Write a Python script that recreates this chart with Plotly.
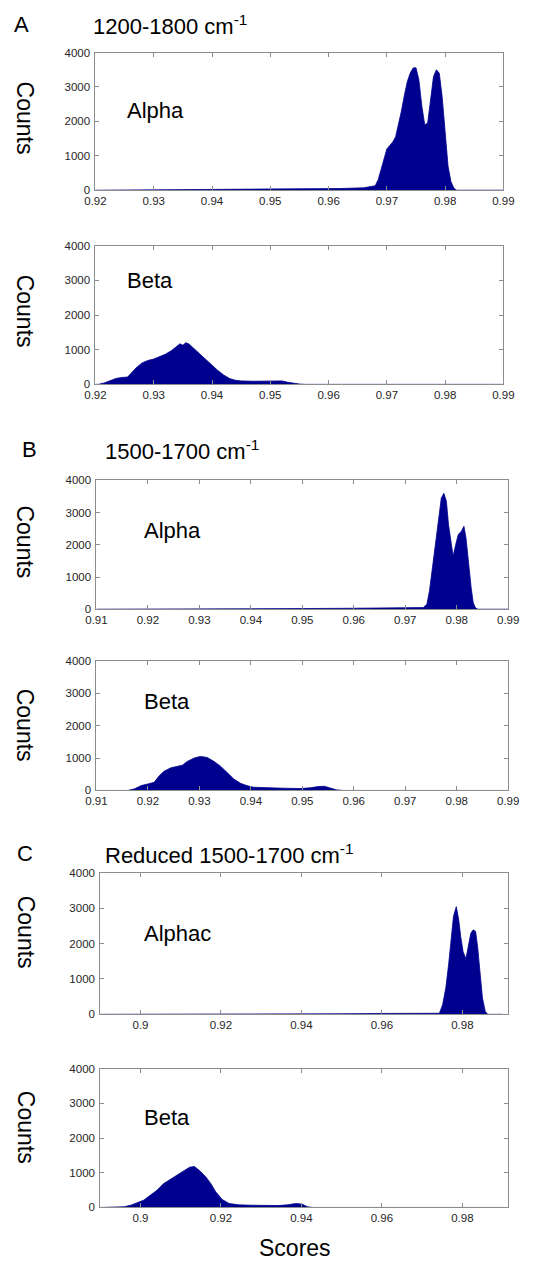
import plotly.graph_objects as go

W, H = 548, 1262
NAVY = "#00008F"

# histogram outlines: score (x) and counts (y)
a_alpha_x = [0.920, 0.933, 0.945, 0.955, 0.962, 0.966, 0.968, 0.9685, 0.969, 0.9695,
             0.970, 0.9705, 0.971, 0.9715, 0.972, 0.9725, 0.973, 0.9735, 0.974, 0.9745,
             0.975, 0.9755, 0.976, 0.9765, 0.977, 0.9775, 0.978, 0.9785, 0.979, 0.9795,
             0.980, 0.9805, 0.981, 0.9815, 0.982, 0.990]
a_alpha_y = [0, 15, 25, 35, 50, 70, 130, 300, 600, 950,
             1200, 1300, 1400, 1550, 1900, 2300, 2750, 3150, 3400, 3550,
             3560, 3200, 2450, 1900, 1950, 2700, 3300, 3500, 3400, 2700,
             1600, 700, 250, 60, 0, 0]

a_beta_x = [0.920, 0.9205, 0.9215, 0.9225, 0.9235, 0.9245, 0.9255, 0.926, 0.927, 0.928,
            0.929, 0.930, 0.931, 0.932, 0.933, 0.934, 0.9345, 0.935, 0.9355, 0.936,
            0.9365, 0.937, 0.938, 0.939, 0.940, 0.941, 0.942, 0.943, 0.944, 0.945,
            0.947, 0.949, 0.951, 0.952, 0.953, 0.954, 0.955, 0.956, 0.990]
a_beta_y = [0, 0, 40, 110, 170, 200, 210, 300, 480, 620,
            690, 730, 790, 870, 970, 1100, 1170, 1130, 1200, 1170,
            1090, 1020, 870, 720, 560, 400, 270, 170, 120, 100,
            90, 95, 110, 100, 60, 30, 10, 0, 0]

b_alpha_x = [0.910, 0.944, 0.950, 0.960, 0.968, 0.9735, 0.9742, 0.9747, 0.9752, 0.9756,
             0.9761, 0.9766, 0.9770, 0.9775, 0.9780, 0.9784, 0.9789, 0.9793, 0.9798, 0.9803,
             0.9809, 0.9814, 0.9818, 0.9823, 0.9828, 0.9832, 0.9836, 0.9841, 0.990]
b_alpha_y = [0, 0, 20, 30, 40, 50, 155, 565, 1185, 1700,
             2370, 2935, 3450, 3600, 3350, 2630, 2010, 1650, 2010, 2320,
             2420, 2575, 2215, 1390, 670, 205, 50, 0, 0]

b_beta_x = [0.910, 0.9161, 0.9174, 0.9187, 0.920, 0.9212, 0.9222, 0.9232, 0.9245, 0.9257,
            0.9267, 0.9277, 0.929, 0.9302, 0.9315, 0.9328, 0.9341, 0.9354, 0.9367, 0.938,
            0.9392, 0.9405, 0.9431, 0.9463, 0.9495, 0.9515, 0.9531, 0.9543, 0.9553, 0.9566,
            0.9579, 0.990]
b_beta_y = [0, 0, 50, 150, 200, 250, 450, 600, 700, 750,
            780, 900, 1000, 1050, 1020, 900, 750, 550, 350, 220,
            150, 100, 80, 70, 60, 80, 120, 130, 80, 20,
            0, 0]

c_alpha_x = [0.890, 0.940, 0.950, 0.960, 0.970, 0.9743, 0.9751, 0.9759, 0.9766, 0.9772,
             0.9778, 0.9785, 0.9791, 0.9796, 0.9802, 0.9809, 0.9815, 0.9821, 0.9827, 0.9833,
             0.9838, 0.9845, 0.9850, 0.9857, 0.9863, 0.990]
c_alpha_y = [0, 0, 15, 25, 35, 30, 270, 750, 1420, 2190,
             2770, 3040, 2670, 2190, 1760, 1570, 1950, 2290, 2385, 2340,
             1900, 1135, 460, 80, 0, 0]

c_beta_x = [0.890, 0.8939, 0.8959, 0.8976, 0.8992, 0.9008, 0.9024, 0.9041, 0.9057, 0.9073,
            0.9089, 0.9106, 0.9122, 0.9134, 0.9146, 0.9163, 0.9175, 0.9187, 0.9203, 0.922,
            0.9244, 0.9276, 0.9309, 0.9341, 0.9366, 0.9386, 0.9402, 0.9415, 0.9427, 0.990]
c_beta_y = [0, 0, 20, 65, 135, 210, 350, 495, 685, 800,
            925, 1050, 1160, 1180, 1070, 875, 685, 450, 230, 115,
            75, 65, 55, 55, 75, 115, 95, 20, 0, 0]

count_ticks = [0, 1000, 2000, 3000, 4000]
a_ticks = [0.92, 0.93, 0.94, 0.95, 0.96, 0.97, 0.98, 0.99]
a_labels = ["0.92", "0.93", "0.94", "0.95", "0.96", "0.97", "0.98", "0.99"]
b_ticks = [0.91, 0.92, 0.93, 0.94, 0.95, 0.96, 0.97, 0.98, 0.99]
b_labels = ["0.91", "0.92", "0.93", "0.94", "0.95", "0.96", "0.97", "0.98", "0.99"]
c_ticks = [0.90, 0.92, 0.94, 0.96, 0.98]
c_labels = ["0.9", "0.92", "0.94", "0.96", "0.98"]

# (x, y, left/right px, top/bottom px, x range, ticks, labels)
panels = [
    (a_alpha_x, a_alpha_y, (88, 513), (47, 186), [0.92, 0.99], a_ticks, a_labels),
    (a_beta_x, a_beta_y, (88, 513), (242, 382), [0.92, 0.99], a_ticks, a_labels),
    (b_alpha_x, b_alpha_y, (89, 518), (479, 609), [0.91, 0.99], b_ticks, b_labels),
    (b_beta_x, b_beta_y, (89, 518), (661, 792), [0.91, 0.99], b_ticks, b_labels),
    (c_alpha_x, c_alpha_y, (93, 518), (875, 1018), [0.89, 0.9914], c_ticks, c_labels),
    (c_beta_x, c_beta_y, (93, 518), (1073, 1213), [0.89, 0.9914], c_ticks, c_labels),
]

FONT = "Liberation Sans, Arial, sans-serif"
fig = go.Figure()
layout = {}
for i, (xs, ys, (l, r), (t, b), xr, tv, tt) in enumerate(panels, start=1):
    sfx = "" if i == 1 else str(i)
    fig.add_trace(go.Scatter(
        x=xs, y=ys, xaxis="x" + sfx, yaxis="y" + sfx,
        mode="lines", fill="tozeroy",
        line={"color": NAVY, "width": 0.8}, fillcolor=NAVY,
        hoverinfo="skip", showlegend=False,
    ))
    common = dict(
        showline=True, linecolor="#8c8c8c", linewidth=1, mirror="ticks",
        ticks="inside", ticklen=4, tickcolor="#8c8c8c", showgrid=False,
        zeroline=False, tickfont={"family": FONT, "size": 11.5, "color": "#262626"},
        fixedrange=True,
    )
    layout["xaxis" + sfx] = dict(common, domain=[l / W, r / W], range=xr,
                                 tickvals=tv, ticktext=tt, anchor="y" + sfx)
    layout["yaxis" + sfx] = dict(common, domain=[1 - b / H, 1 - t / H], range=[0, 4000],
                                 tickvals=count_ticks, anchor="x" + sfx,
                                 ticklabelstandoff=2)


def note(text, x, y, size=22, xanchor="left", angle=0):
    return dict(text=text, x=x / W, y=1 - y / H, xref="paper", yref="paper",
                xanchor=xanchor, yanchor="middle", showarrow=False, textangle=angle,
                font={"family": FONT, "size": size, "color": "black"})


annotations = [
    note("A", 11, 19, xanchor="center"),
    note("1200-1800 cm<sup>-1</sup>", 83, 19),
    note("B", 19, 448, xanchor="center"),
    note("1500-1700 cm<sup>-1</sup>", 96, 448),
    note("C", 15, 856, xanchor="center"),
    note("Reduced 1500-1700 cm<sup>-1</sup>", 96, 856),
    note("Alpha", 119, 106),
    note("Beta", 119, 277),
    note("Alpha", 136, 530),
    note("Beta", 136, 702),
    note("Alphac", 136, 936),
    note("Beta", 136, 1122),
    note("Scores", 296, 1254, size=23, xanchor="center"),
]
for cy in (113, 308, 541, 726, 935, 1132):
    annotations.append(note("Counts", 15, cy, size=23, xanchor="center", angle=90))

fig.update_layout(
    width=W, height=H, margin=dict(l=0, r=0, t=0, b=0),
    paper_bgcolor="white", plot_bgcolor="white",
    annotations=annotations, **layout,
)
# the page body has a default margin; drop it so the figure sits at the page origin
fig.write_html("out.html", config={"displayModeBar": False},
               post_script="document.body.style.margin='0';")
